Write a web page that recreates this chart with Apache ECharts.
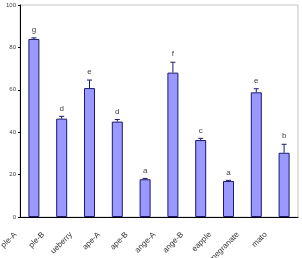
<!DOCTYPE html>
<html>
<head>
<meta charset="utf-8">
<script src="https://cdn.jsdelivr.net/npm/echarts@6/dist/echarts.min.js"></script>
<style>
  html, body { margin: 0; padding: 0; background: #fff; }
  #chart { width: 302px; height: 258px; }
</style>
</head>
<body>
<div id="chart"></div>
<script>
// values (labels are cut off in the picture, kept as seen)
const categories = ['ple-A', 'ple-B', 'ueberry', 'ape-A', 'ape-B',
  'ange-A', 'ange-B', 'eapple', 'megranate', 'mato']
const means = [84, 46.4, 60.8, 45, 17.8, 68.1, 36.3, 17, 58.8, 30.3]
const errors = [0.5, 1.1, 3.8, 1, 0.4, 4.9, 0.8, 0.3, 1.7, 4]
const letters = ['g', 'd', 'e', 'd', 'a', 'f', 'c', 'a', 'e', 'b']
const yTicks = [0, 20, 40, 60, 80, 100]

const chart = echarts.init(document.getElementById('chart'))

chart.setOption({
  animation: false,
  grid: {
    left: 20, right: 4, top: 5, bottom: 41,
    outerBoundsMode: 'none',
    containLabel: false,
    show: true, borderColor: '#c4c4c4', borderWidth: 1
  },
  xAxis: {
    type: 'category',
    data: categories,
    axisLine: { lineStyle: { color: '#000', width: 1 } },
    axisTick: { inside: true, length: 3, lineStyle: { color: '#000' } },
    axisLabel: {
      rotate: 45,
      fontSize: 8,
      fontFamily: 'Liberation Sans',
      color: '#333',
      margin: -2,
      interval: 0,
      hideOverlap: false,
      // push the text down-left so it ends left of the bar, like the original
      padding: [0, 26, 0, 0]
    }
  },
  yAxis: {
    type: 'value',
    min: yTicks[0],
    max: yTicks[yTicks.length - 1],
    interval: 20,
    splitLine: { show: false },
    axisLine: { show: true, lineStyle: { color: '#000', width: 1 } },
    axisTick: { show: true, length: 2, lineStyle: { color: '#000' } },
    axisLabel: {
      fontSize: 6,
      fontFamily: 'Liberation Sans',
      color: '#444',
      margin: 4
    }
  },
  series: [
    {
      type: 'bar',
      data: means,
      barWidth: 11,
      itemStyle: { color: '#9999ff', borderColor: '#1a1a6e', borderWidth: 1 }
    },
    {
      type: 'custom',
      data: means.map((m, i) => [i, m, errors[i]]),
      z: 5,
      renderItem(params, api) {
        const i = api.value(0)
        const m = api.value(1)
        const e = api.value(2)
        const p0 = api.coord([i, m])
        const p1 = api.coord([i, m + e])
        const st = { stroke: '#1a1a6e', lineWidth: 1 }
        return {
          type: 'group',
          children: [
            { type: 'line', shape: { x1: p0[0], y1: p0[1], x2: p1[0], y2: p1[1] }, style: st },
            { type: 'line', shape: { x1: p1[0] - 2.5, y1: p1[1], x2: p1[0] + 2.5, y2: p1[1] }, style: st },
            {
              type: 'text',
              style: {
                x: p1[0], y: p1[1] - 4,
                text: letters[params.dataIndex],
                fill: '#444', font: '8px Liberation Sans',
                align: 'center', verticalAlign: 'bottom'
              }
            }
          ]
        }
      }
    }
  ]
})
</script>
</body>
</html>
